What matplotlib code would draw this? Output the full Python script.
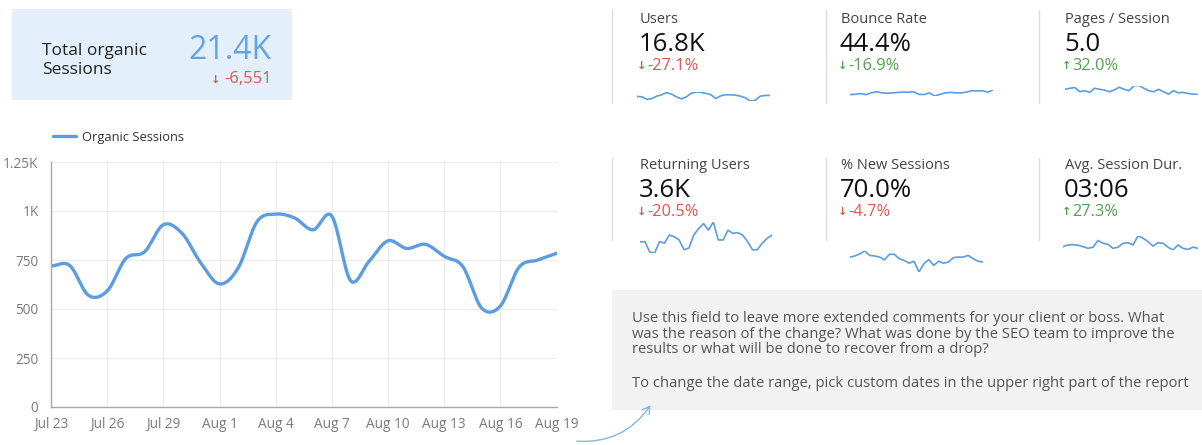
import numpy as np
import matplotlib
matplotlib.use("Agg")
import matplotlib.pyplot as plt
from matplotlib.patches import Rectangle, FancyArrowPatch

plt.rcParams["font.family"] = ["Open Sans", "DejaVu Sans"]

# ---------------------------------------------------------------- data
day_count = 28
tick_days = [0, 3, 6, 9, 12, 15, 18, 21, 24, 27]
tick_labels = ["Jul 23", "Jul 26", "Jul 29", "Aug 1", "Aug 4",
               "Aug 7", "Aug 10", "Aug 13", "Aug 16", "Aug 19"]
y_ticks = [0, 250, 500, 750, 1000, 1250]
y_tick_labels = ["0", "250", "500", "750", "1K", "1.25K"]

organic_sessions = [719, 722, 570, 592, 758, 792, 930, 886, 735, 628,
                    710, 945, 984, 965, 904, 974, 645, 745, 848, 809,
                    830, 769, 716, 505, 515, 713, 750, 784]
sessions_change = -6551

kpi_titles = ["Users", "Bounce Rate", "Pages / Session",
              "Returning Users", "% New Sessions", "Avg. Session Dur."]
kpi_values = ["16.8K", "44.4%", "5.0", "3.6K", "70.0%", "03:06"]
kpi_changes = [-27.1, -16.9, 32.0, -20.5, -4.7, 27.3]
kpi_is_good = [False, True, True, False, False, True]

users_daily = [605, 600, 572, 580, 608, 624, 648, 632, 600, 576, 600, 640,
               656, 652, 640, 624, 580, 612, 624, 624, 620, 608, 588, 552,
               560, 608, 616, 616]
bounce_daily = [44.0, 44.1, 44.4, 44.0, 44.7, 45.2, 44.7, 44.6, 44.7, 44.9,
                45.0, 45.0, 45.2, 44.1, 44.0, 44.7, 43.4, 44.1, 44.7, 44.9,
                44.7, 44.7, 45.0, 45.6, 45.5, 45.6, 45.0, 45.9]
pages_daily = [5.06, 5.15, 5.21, 4.85, 4.94, 4.79, 5.15, 5.06, 5.00, 4.85,
               5.00, 5.24, 5.06, 4.94, 5.36, 5.39, 5.15, 4.94, 4.85, 5.06,
               4.85, 4.64, 4.94, 4.76, 4.79, 4.70, 4.64, 4.61]
returning_daily = [117, 118, 92, 90, 118, 114, 134, 130, 122, 98, 102, 134,
                   150, 162, 146, 166, 122, 122, 146, 138, 140, 134, 118, 98,
                   98, 114, 126, 134]
new_sessions_daily = [70.6, 71.0, 71.8, 72.8, 71.2, 71.0, 70.6, 69.6, 71.6,
                      71.6, 70.0, 69.4, 68.4, 69.1, 65.2, 68.2, 69.7, 67.6,
                      69.1, 68.4, 68.8, 70.4, 70.6, 70.6, 71.2, 70.0, 69.1,
                      68.8]
duration_daily = [180, 186, 187, 185, 180, 174, 178, 202, 192, 188, 174, 178,
                  192, 194, 186, 218, 210, 198, 182, 194, 192, 178, 168, 186,
                  174, 170, 178, 174]

comment_lines = [
    "Use this field to leave more extended comments for your client or boss. What",
    "was the reason of the change? What was done by the SEO team to improve the",
    "results or what will be done to recover from a drop?",
    "",
    "To change the date range, pick custom dates in the upper right part of the report",
]

# ---------------------------------------------------------------- styles
W, H = 1202, 445
BLUE = "#5b9de0"
RED = "#e0554f"
GREEN = "#55a052"


def fx(x):
    return x / W


def fy(y):
    return 1 - y / H


def catmull_rom(values, steps=24):
    v = np.asarray(values, dtype=float)
    p = np.concatenate([[2 * v[0] - v[1]], v, [2 * v[-1] - v[-2]]])
    xs, ys = [], []
    t = np.linspace(0, 1, steps, endpoint=False)
    for i in range(len(v) - 1):
        p0, p1, p2, p3 = p[i:i + 4]
        seg = 0.5 * ((2 * p1) + (-p0 + p2) * t
                     + (2 * p0 - 5 * p1 + 4 * p2 - p3) * t ** 2
                     + (-p0 + 3 * p1 - 3 * p2 + p3) * t ** 3)
        xs.append(i + t)
        ys.append(seg)
    xs.append([len(v) - 1])
    ys.append([v[-1]])
    return np.concatenate(xs), np.concatenate(ys)


def trend_arrow(x, y, up, color):
    fig.text(fx(x), fy(y), "↑" if up else "↓", fontsize=8, color=color,
             ha="center", va="baseline", family="DejaVu Sans",
             fontweight="bold")


fig = plt.figure(figsize=(W / 100, H / 100), dpi=100)
fig.patch.set_facecolor("white")

# ---------------------------------------------------------------- total box
fig.add_artist(Rectangle((fx(12), fy(100)), (292 - 12) / W, (100 - 9) / H,
                         transform=fig.transFigure, facecolor="#e3effa",
                         edgecolor="none", zorder=0))
fig.text(fx(42), fy(55), "Total organic", fontsize=12.5, color="#222222",
         va="baseline")
fig.text(fx(42), fy(74), "Sessions", fontsize=12.5, color="#222222",
         va="baseline")
total_sessions = sum(organic_sessions)
fig.text(fx(272), fy(59), f"{total_sessions / 1000:.1f}K", fontsize=23,
         color="#62a5e6", ha="right", va="baseline")
fig.text(fx(272), fy(83), f"{sessions_change:,}", fontsize=12, color=RED,
         ha="right", va="baseline")
trend_arrow(216, 83, sessions_change > 0, RED)

# ---------------------------------------------------------------- main chart
ax = fig.add_axes([fx(51), fy(407), (556.5 - 51) / W, (407 - 162) / H])
sx, sy = catmull_rom(organic_sessions)
ax.plot(sx, sy, color=BLUE, lw=2.4, solid_capstyle="round",
        label="Organic Sessions")
ax.set_xlim(0, day_count - 1)
ax.set_ylim(0, 1250)
ax.set_xticks(tick_days)
ax.set_xticklabels(tick_labels)
ax.set_yticks(y_ticks)
ax.set_yticklabels(y_tick_labels)
ax.tick_params(axis="both", length=0, labelsize=9.8, colors="#7a7a7a")
ax.tick_params(axis="x", pad=7)
ax.tick_params(axis="y", pad=9)
ax.grid(True, color="#ececec", lw=0.9)
ax.set_axisbelow(True)
for side in ("top", "right"):
    ax.spines[side].set_visible(False)
for side in ("left", "bottom"):
    ax.spines[side].set_color("#a8a8a8")
    ax.spines[side].set_linewidth(1.0)
ax.legend(loc="center left", bbox_to_anchor=(fx(41), fy(137)),
          bbox_transform=fig.transFigure, frameon=False, fontsize=9.3,
          handlelength=1.8, handletextpad=0.5, labelcolor="#333333")

# ---------------------------------------------------------------- KPI tiles
col_x = [640, 841, 1065]
row_y = [(23, 51, 70), (169, 197, 216)]
sep_x = [612, 826, 1039]
sep_y = [(10, 103), (158, 240)]

for r in range(2):
    for c in range(3):
        fig.add_artist(plt.Line2D([fx(sep_x[c])] * 2,
                                  [fy(sep_y[r][0]), fy(sep_y[r][1])],
                                  transform=fig.transFigure,
                                  color="#dedede", lw=1))
        k = r * 3 + c
        x0 = col_x[c]
        ty, vy, cy = row_y[r]
        fig.text(fx(x0), fy(ty), kpi_titles[k], fontsize=10.5,
                 color="#444444", va="baseline")
        fig.text(fx(x0 - 1), fy(vy), kpi_values[k], fontsize=18.5,
                 color="#111111", va="baseline")
        col = GREEN if kpi_is_good[k] else RED
        trend_arrow(x0 + 2, cy - 1, kpi_changes[k] > 0, col)
        fig.text(fx(x0 + 7), fy(cy), f"{kpi_changes[k]:.1f}%", fontsize=11.8,
                 color=col, va="baseline")

spark_series = [users_daily, bounce_daily, pages_daily,
                returning_daily, new_sessions_daily, duration_daily]
# x range and vertical span (pixels) of each sparkline
spark_boxes = [(637, 770, 92, 101), (850, 993, 90, 96), (1065, 1198, 85.5, 94.5),
               (640, 772, 222, 253), (850, 983, 251, 272), (1063, 1198, 236, 250)]
for series, (x0, x1, y0, y1) in zip(spark_series, spark_boxes):
    sax = fig.add_axes([fx(x0), fy(y1), (x1 - x0) / W, (y1 - y0) / H])
    sax.plot(range(len(series)), series, color=BLUE, lw=1.2)
    sax.set_xlim(0, len(series) - 1)
    sax.set_ylim(min(series), max(series))
    sax.axis("off")
    sax.patch.set_alpha(0)

# ---------------------------------------------------------------- comment box
fig.add_artist(Rectangle((fx(612), fy(410)), (1202 - 612) / W, (410 - 290) / H,
                         transform=fig.transFigure, facecolor="#f2f2f2",
                         edgecolor="none", zorder=0))
line_base = [322, 337.5, 353, None, 387]
for txt, yb in zip(comment_lines, line_base):
    if txt:
        fig.text(fx(632), fy(yb), txt, fontsize=10.6, color="#555555",
                 va="baseline")

fig.add_artist(FancyArrowPatch((fx(574), fy(441)), (fx(652), fy(403)),
                               transform=fig.transFigure,
                               connectionstyle="arc3,rad=0.3",
                               arrowstyle="->,head_length=5,head_width=3",
                               color="#86b6e6", lw=1.0))

fig.savefig("out.png", dpi=100)
